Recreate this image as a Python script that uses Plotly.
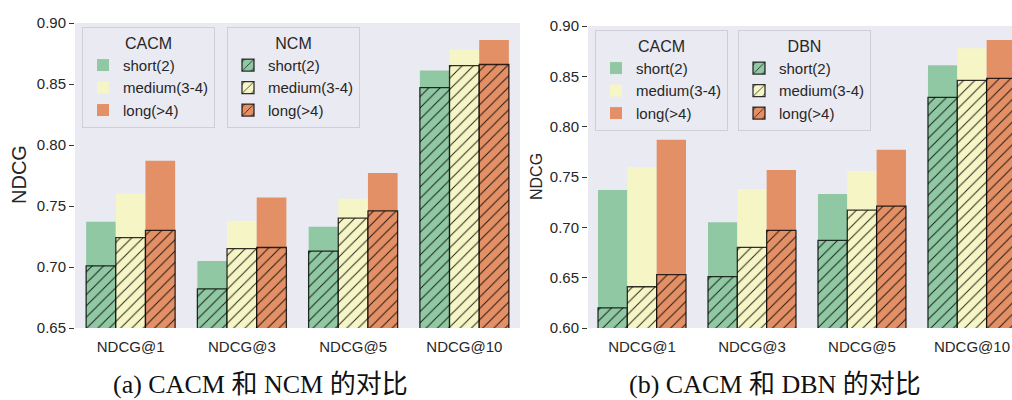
import plotly.graph_objects as go

categories = ["NDCG@1", "NDCG@3", "NDCG@5", "NDCG@10"]
groups = ["short(2)", "medium(3-4)", "long(>4)"]

cacm_short = [0.737, 0.705, 0.733, 0.861]
cacm_medium = [0.760, 0.738, 0.756, 0.878]
cacm_long = [0.787, 0.757, 0.777, 0.886]

ncm_short = [0.701, 0.682, 0.713, 0.847]
ncm_medium = [0.724, 0.715, 0.740, 0.865]
ncm_long = [0.730, 0.716, 0.746, 0.866]

dbn_short = [0.620, 0.651, 0.687, 0.829]
dbn_medium = [0.641, 0.680, 0.717, 0.846]
dbn_long = [0.653, 0.697, 0.721, 0.848]

left_yticks = [0.65, 0.70, 0.75, 0.80, 0.85, 0.90]
right_yticks = [0.60, 0.65, 0.70, 0.75, 0.80, 0.85, 0.90]

colors = ["#91c8a4", "#f6f5c5", "#e39066"]
BG = "#eaeaf2"
W, H = 1012, 400
SANS = "Liberation Sans, Arial, sans-serif"
SERIF = "Liberation Serif, Noto Sans CJK SC, serif"

fig = go.Figure()
bw = 0.8 / 3
offsets = [-0.4, -0.4 + bw, -0.4 + 2 * bw]
xi = list(range(len(categories)))


def add_set(vals_list, xaxis, yaxis, legend, hatched):
    for i, vals in enumerate(vals_list):
        marker = dict(color=colors[i])
        if hatched:
            marker["pattern"] = dict(shape="/", fgcolor="rgba(0,0,0,0.85)", bgcolor=colors[i],
                                     size=8, solidity=0.12, fillmode="replace")
            marker["line"] = dict(color="rgba(0,0,0,0.8)", width=1.3)
        else:
            marker["line"] = dict(width=0)
        fig.add_trace(go.Bar(
            x=xi, y=vals, width=bw, offset=offsets[i],
            name=groups[i], marker=marker, xaxis=xaxis, yaxis=yaxis,
            legend=legend, showlegend=True, hoverinfo="skip",
        ))


cacm = [cacm_short, cacm_medium, cacm_long]
add_set(cacm, "x", "y", "legend", False)
add_set([ncm_short, ncm_medium, ncm_long], "x", "y", "legend2", True)
add_set(cacm, "x2", "y2", "legend3", False)
add_set([dbn_short, dbn_medium, dbn_long], "x2", "y2", "legend4", True)

tickfont = dict(family=SANS, size=15, color="#262626")
xcommon = dict(tickmode="array", tickvals=xi, ticktext=categories, showgrid=False,
               zeroline=False, showline=False, ticks="", ticklabelstandoff=8,
               automargin=False, tickfont=dict(family=SANS, size=15, color="#262626"))
ycommon = dict(showgrid=False, zeroline=False, showline=False, ticks="outside", ticklen=5,
               tickcolor="#333333", tickwidth=1, tickfont=tickfont, tickformat=".2f",
               tickmode="array", automargin=False)


def px(v):
    return v / W


def py(v):
    return (H - v) / H


legend_common = dict(bgcolor=BG, bordercolor="#cfcfd6", borderwidth=1,
                     font=dict(family=SANS, size=15, color="#262626"),
                     xanchor="left", yanchor="top", traceorder="normal",
                     itemclick=False, itemdoubleclick=False)


def leg(x, y, title):
    d = dict(legend_common)
    d.update(x=px(x), y=py(y), title=dict(text=title, side="top center",
                                            font=dict(family=SANS, size=16, color="#262626")))
    return d


fig.update_layout(
    width=W, height=H, margin=dict(l=0, r=0, t=0, b=0, autoexpand=False),
    paper_bgcolor="white", plot_bgcolor=BG, barmode="overlay",
    xaxis=dict(domain=[px(75), px(520)], range=[-0.5, 3.5], anchor="y", **xcommon),
    yaxis=dict(domain=[py(328), py(23)], range=[0.65, 0.90], anchor="x",
               tickvals=left_yticks, **ycommon),
    xaxis2=dict(domain=[px(588), 1.0], range=[-0.491, 3.364], anchor="y2", **xcommon),
    yaxis2=dict(domain=[py(328), py(26)], range=[0.60, 0.90], anchor="x2",
                tickvals=right_yticks, **ycommon),
    legend=leg(82, 27, "CACM"),
    legend2=leg(227, 27, "NCM"),
    legend3=leg(595, 30, "CACM"),
    legend4=leg(738, 30, "DBN"),
    annotations=[
        dict(text="NDCG", x=px(19), y=py(175), xref="paper", yref="paper", textangle=-90,
             showarrow=False, font=dict(family=SANS, size=20, color="#262626"),
             xanchor="center", yanchor="middle"),
        dict(text="NDCG", x=px(536), y=py(177), xref="paper", yref="paper", textangle=-90,
             showarrow=False, font=dict(family=SANS, size=16, color="#262626"),
             xanchor="center", yanchor="middle"),
        dict(text="(a) CACM 和 NCM 的对比", x=px(260), y=py(384), xref="paper", yref="paper",
             showarrow=False, font=dict(family=SERIF, size=26, color="#111111"),
             xanchor="center", yanchor="middle"),
        dict(text="(b) CACM 和 DBN 的对比", x=px(775), y=py(384), xref="paper", yref="paper",
             showarrow=False, font=dict(family=SERIF, size=26, color="#111111"),
             xanchor="center", yanchor="middle"),
    ],
)

fig.write_html("out.html")
